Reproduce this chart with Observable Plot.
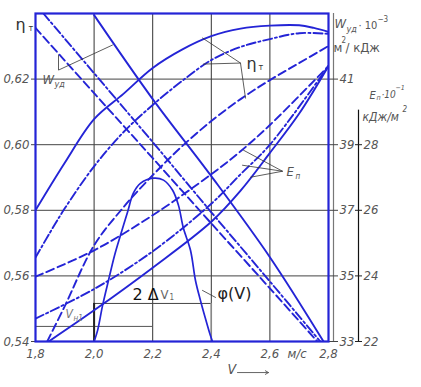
<!DOCTYPE html>
<html><head><meta charset="utf-8">
<script src="https://cdn.jsdelivr.net/npm/d3@7"></script>
<script src="https://cdn.jsdelivr.net/npm/@observablehq/plot@0.6"></script>
<style>
body{margin:0;background:#fff;}
#chart svg{display:block;background:#fff;}
</style></head><body><div id="chart"></div>
<script>
// ---------- data ----------
const V_ticks = [1.8, 2.0, 2.2, 2.4, 2.6, 2.8];
const V_grid = [2.0, 2.2, 2.4, 2.6];
const eta_ticks = [0.54, 0.56, 0.58, 0.60, 0.62];
const eta_grid = [0.56, 0.58, 0.60, 0.62];
const W_ticks = [33, 35, 37, 39, 41];
const E_ticks = [22, 24, 26, 28];

// eta_T (traction efficiency)
const etaSolid_V   = [1.80, 1.90, 2.00, 2.10, 2.20, 2.30, 2.40, 2.50, 2.60, 2.70, 2.75, 2.80];
const etaSolid     = [0.580, 0.5945, 0.6078, 0.6155, 0.6234, 0.6290, 0.6331, 0.6354, 0.6363, 0.6364, 0.6356, 0.6344];
const etaDashDot_V = [1.80, 1.85, 1.90, 2.00, 2.10, 2.20, 2.30, 2.40, 2.50, 2.60, 2.70, 2.80];
const etaDashDot   = [0.5656, 0.5733, 0.5806, 0.5934, 0.6038, 0.6121, 0.6194, 0.6258, 0.6298, 0.6322, 0.6340, 0.6338];
const etaDashed_V  = [1.84, 1.90, 2.00, 2.10, 2.20, 2.30, 2.40, 2.50, 2.60, 2.70, 2.80];
const etaDashed    = [0.5400, 0.5508, 0.5693, 0.5809, 0.5907, 0.5995, 0.6072, 0.6139, 0.6197, 0.6249, 0.6301];

// W_ud * 10^-3, m2/kJ
const WSolid_V   = [2.00, 2.20, 2.40, 2.60, 2.783];
const WSolid     = [42.95, 40.39, 38.04, 35.57, 33.0];
const WDashDot_V = [1.827, 2.00, 2.20, 2.40, 2.60, 2.772];
const WDashDot   = [43.0, 41.18, 39.08, 36.94, 34.83, 33.0];
const WDashed_V  = [1.80, 2.00, 2.20, 2.40, 2.60, 2.762];
const WDashed    = [42.56, 40.57, 38.59, 36.60, 34.62, 33.0];

// E_p * 10^-1, kJ/m2
const ESolid_V   = [1.845, 2.00, 2.20, 2.40, 2.50, 2.60, 2.70, 2.80];
const ESolid     = [22.0, 22.95, 24.25, 25.65, 26.6, 27.75, 28.95, 30.4];
const EDashDot_V = [1.80, 2.00, 2.20, 2.40, 2.50, 2.60, 2.80];
const EDashDot   = [22.7, 23.6, 24.75, 26.2, 27.1, 28.0, 30.4];
const EDashed_V  = [1.80, 2.00, 2.20, 2.40, 2.50, 2.60, 2.80];
const EDashed    = [23.98, 24.78, 25.85, 27.1, 27.8, 28.6, 30.4];

// phi(V) distribution (drawn on eta scale, no own axis)
const phi_V = [2.00, 2.012, 2.029, 2.049, 2.070, 2.090, 2.114, 2.134, 2.158, 2.203, 2.237, 2.268, 2.288, 2.305, 2.329, 2.346, 2.363, 2.380, 2.397, 2.404];
const phi   = [0.540, 0.5434, 0.5510, 0.5586, 0.5663, 0.5724, 0.5794, 0.5852, 0.5882, 0.5898, 0.5892, 0.5861, 0.5815, 0.5745, 0.5678, 0.5586, 0.5525, 0.5470, 0.5418, 0.540];

// interval markers
const VH1_range = [1.8, 2.2];   const VH1_level = 0.5446;
const dV_range  = [2.0, 2.4];   const dV_level  = 0.5516;

// ---------- helpers ----------
const blue = "#2424d6";
const W2eta = w => 0.54 + (w - 33) / 100;
const E2eta = e => 0.54 + (e - 22) / 100;
const zip = (xs, ys, f = d => d) => xs.map((x, i) => ({V: x, y: f(ys[i])}));
const comma1 = d => d.toFixed(1).replace(".", ",");
const comma2 = d => d.toFixed(2).replace(".", ",");
const font = "'Liberation Sans Narrow','DejaVu Sans Condensed',sans-serif";
const gray = "#555";

const solid = {stroke: blue, strokeWidth: 1.9, curve: "catmull-rom", clip: true};
const dashdot = {...solid, strokeDasharray: "9,3,2,3"};
const dashed = {...solid, strokeDasharray: "8,4"};

const line = (xs, ys, f, style) => Plot.line(zip(xs, ys, f), {x: "V", y: "y", ...style});

// pixel helpers for annotation placement (annotations only)
const px2V = x => 1.8 + (x - 35) / 293;
const py2e = y => 0.54 + (341 - y) / 3275;
const T = (t, x, y, o = {}) => Plot.text([t], {x: px2V(x), y: py2e(y), text: d => d, textAnchor: "start", fontFamily: font, fontSize: 13, fill: gray, fontStyle: "italic", ...o});
const leader = (pts) => Plot.line(pts.map(([x, y]) => ({V: px2V(x), y: py2e(y)})), {x: "V", y: "y", stroke: "#333", strokeWidth: 0.8});

const chart = Plot.plot({
  width: 421, height: 387,
  marginLeft: 35, marginRight: 93, marginTop: 13, marginBottom: 46,
  style: {background: "#fff"},
  x: {domain: [1.8, 2.8], axis: null},
  y: {domain: [0.54, 0.64], axis: null},
  marks: [
    // grid
    Plot.ruleX(V_grid, {y1: 0.54, y2: 0.64, stroke: "#333", strokeWidth: 1}),
    Plot.ruleY(eta_grid, {x1: 1.8, x2: 2.8, stroke: "#444", strokeWidth: 1}),
    // W axis line & E axis line
    Plot.ruleX([2.8], {y1: 0.54, y2: 0.64, dx: 5, stroke: "#777", strokeWidth: 1.2}),
    Plot.ruleX([2.8], {y1: 0.54, y2: py2e(110), dx: 30, stroke: "#111", strokeWidth: 1.2}),
    // axes
    Plot.axisY({anchor: "left", label: null, ticks: eta_ticks, tickSize: 4, tickPadding: 2, tickFormat: comma2,
      fontFamily: font, fontSize: 13, fontStyle: "italic", fill: gray, stroke: "#444"}),
    Plot.axisY({anchor: "right", label: null, ticks: W_ticks.map(W2eta), tickSize: 9, tickPadding: 2,
      tickFormat: d => String(Math.round((d - 0.54) * 100 + 33)),
      fontFamily: font, fontSize: 13, fontStyle: "italic", fill: gray, stroke: "#444"}),
    Plot.axisY({anchor: "right", label: null, ticks: E_ticks.map(E2eta), dx: 26, tickSize: 7, tickPadding: 2,
      tickFormat: d => String(Math.round((d - 0.54) * 100 + 22)),
      fontFamily: font, fontSize: 13, fontStyle: "italic", fill: gray, stroke: "#222"}),
    Plot.axisX({label: null, ticks: V_ticks, tickSize: 0, tickPadding: 7, tickFormat: comma1,
      fontFamily: font, fontSize: 13, fontStyle: "italic", fill: gray}),
    // interval markers
    Plot.ruleY([VH1_level], {x1: VH1_range[0], x2: VH1_range[1], stroke: "#555", strokeWidth: 1}),
    Plot.ruleY([dV_level], {x1: dV_range[0], x2: dV_range[1], stroke: "#444", strokeWidth: 1}),
    Plot.ruleX([dV_range[0]], {y1: 0.54, y2: dV_level, stroke: "#222", strokeWidth: 2}),
    Plot.ruleX([dV_range[1]], {y1: 0.54, y2: dV_level, stroke: "#888", strokeWidth: 1.5}),
    // curves
    line(etaSolid_V, etaSolid, d => d, solid),
    line(etaDashDot_V, etaDashDot, d => d, dashdot),
    line(etaDashed_V, etaDashed, d => d, dashed),
    line(WSolid_V, WSolid, W2eta, solid),
    line(WDashDot_V, WDashDot, W2eta, dashdot),
    line(WDashed_V, WDashed, W2eta, dashed),
    line(ESolid_V, ESolid, E2eta, solid),
    line(EDashDot_V, EDashDot, E2eta, dashdot),
    line(EDashed_V, EDashed, E2eta, dashed),
    line(phi_V, phi, d => d, {...solid, strokeWidth: 1.7}),
    // frame
    Plot.frame({stroke: blue, strokeWidth: 2.2}),
    // leaders
    leader([[58, 55], [58, 70], [112, 45]]),
    leader([[202, 38], [240, 63], [203, 64]]),
    leader([[240, 63], [245, 98]]),
    leader([[243, 150], [282, 171], [242, 165]]),
    leader([[282, 171], [250, 177]]),
    leader([[202, 290], [215, 297]]),
    // labels
    T("η", 15, 25, {fontStyle: "normal", fontFamily: "'DejaVu Sans',sans-serif", fontSize: 16, fill: "#333"}),
    T("т", 28, 28, {fontStyle: "normal", fontSize: 9, fill: "#333"}),
    T("W", 42, 80, {fontSize: 13}),
    T("уд", 54, 84, {fontSize: 9}),
    T("η", 246, 64, {fontStyle: "normal", fontFamily: "'DejaVu Sans',sans-serif", fontSize: 16, fill: "#333"}),
    T("т", 258, 67, {fontStyle: "normal", fontSize: 9, fill: "#333"}),
    T("E", 286, 172, {fontSize: 13}),
    T("п", 295, 176, {fontSize: 8}),
    T("2 Δ", 132, 294, {fontStyle: "normal", fontFamily: "'DejaVu Sans',sans-serif", fontSize: 16, fill: "#111"}),
    T("V", 160, 294, {fontStyle: "normal", fontSize: 13, fill: "#666"}),
    T("1", 169, 297, {fontStyle: "normal", fontSize: 8, fill: "#666"}),
    T("φ(V)", 217, 293, {fontStyle: "normal", fontFamily: "'DejaVu Sans',sans-serif", fontSize: 16, fill: "#222"}),
    T("V", 65, 314, {fontSize: 12, fill: "#777"}),
    T("н1", 73, 318, {fontSize: 8, fill: "#777"}),
    T("W", 334, 24, {fontSize: 13}),
    T("уд", 346, 29, {fontSize: 9}),
    T("· 10", 358, 25, {fontStyle: "normal", fontSize: 11}),
    T("−3", 377, 19, {fontStyle: "normal", fontSize: 8}),
    T("м", 333, 48, {fontStyle: "normal", fontSize: 13}),
    T("2", 341, 40, {fontStyle: "normal", fontSize: 8}),
    T("/ кДж", 345, 48, {fontStyle: "normal", fontSize: 13}),
    T("E", 369, 95, {fontSize: 11}),
    T("п", 376, 98, {fontSize: 7}),
    T("·10", 381, 95, {fontSize: 10}),
    T("−1", 395, 88, {fontSize: 7}),
    T("кДж/м", 362, 117, {fontSize: 12}),
    T("2", 402, 109, {fontSize: 8}),
    T("м/с", 287, 353, {fontSize: 13}),
    T("V", 227, 369, {fontSize: 14}),
    Plot.arrow([0], {x1: px2V(237), x2: px2V(268), y1: py2e(372), y2: py2e(372), stroke: gray, strokeWidth: 0.9, headLength: 6, bend: 0})
  ]
});
document.getElementById("chart").appendChild(chart);
</script>
</body></html>
